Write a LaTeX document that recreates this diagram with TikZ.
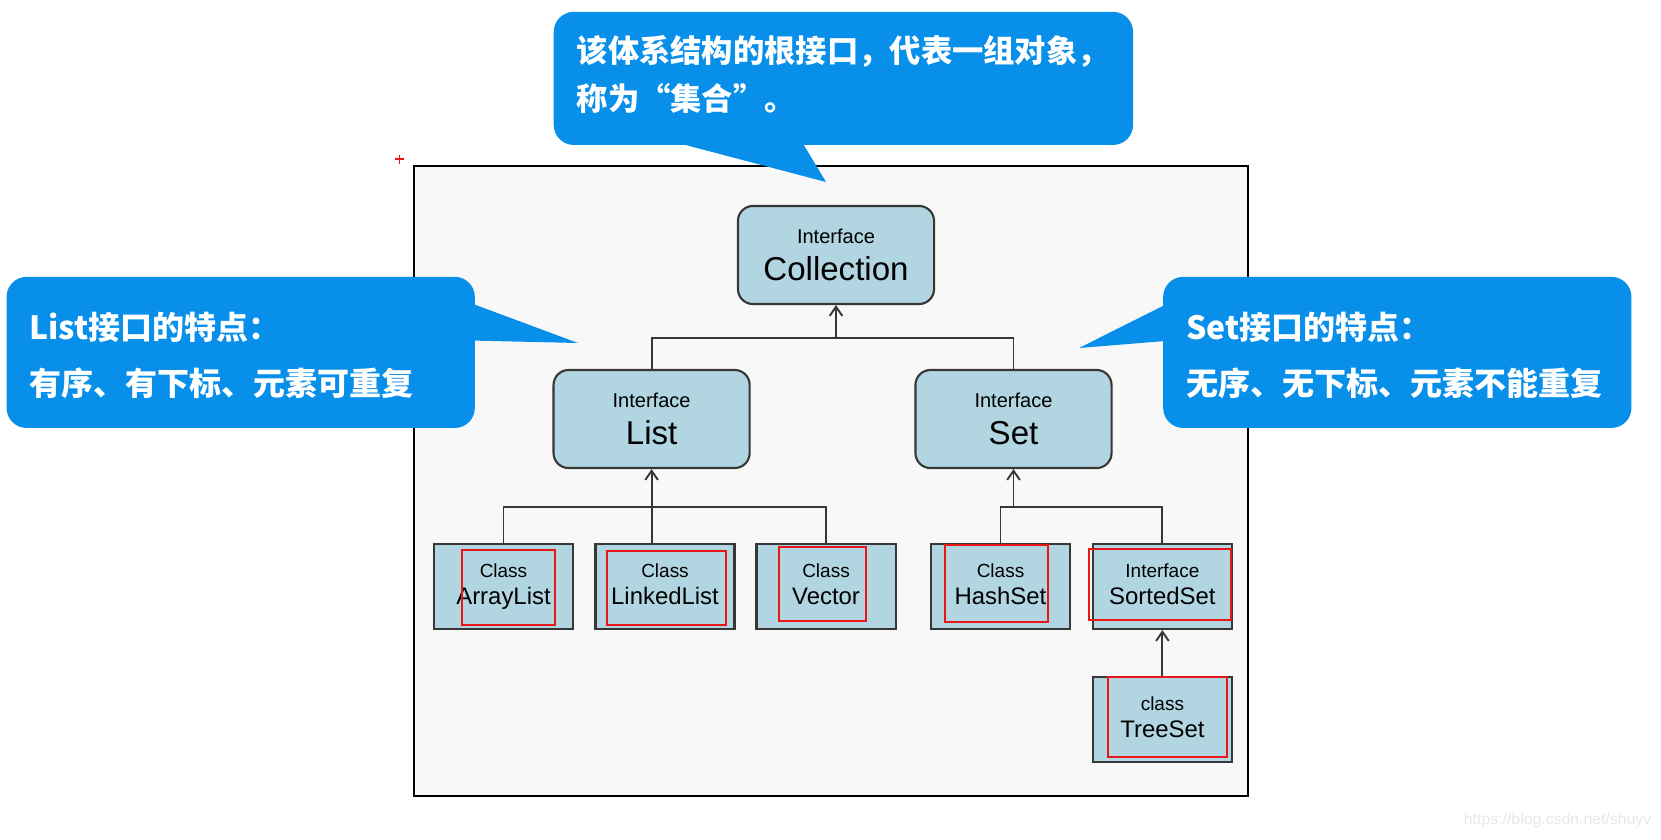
\documentclass[tikz,border=0pt]{standalone}
\usepackage{fontspec}
\setmainfont{Liberation Sans}
\newfontfamily\cjk{Noto Sans CJK SC}
\usepackage{tikz}
\usetikzlibrary{calc, positioning, arrows.meta}
\definecolor{noteBlue}{RGB}{8, 143, 233}
\definecolor{boxBlue}{RGB}{177, 213, 225}
\definecolor{frameBg}{RGB}{248, 248, 248}
\definecolor{lineGray}{RGB}{55, 55, 55}
\definecolor{markRed}{RGB}{232, 22, 22}

\begin{document}
\begin{tikzpicture}[x=0.01cm, y=-0.01cm, >={Straight Barb[length=2.6pt, width=3.6pt]},
  iface/.style={draw=lineGray, line width=0.6pt, rounded corners=0.15cm, fill=boxBlue,
    minimum width=1.96cm, minimum height=0.98cm, inner sep=0pt, align=center,
    font=\fontsize{9.4pt}{10.4pt}\selectfont},
  cls/.style={draw=lineGray, line width=0.6pt, fill=boxBlue, minimum width=1.39cm,
    minimum height=0.85cm, inner sep=0pt, align=center, font=\fontsize{6.8pt}{7.6pt}\selectfont,
    execute at begin node=\rule{0pt}{5.1pt}, execute at end node=\vphantom{y}},
  note/.style={fill=noteBlue, rounded corners=0.2cm, text=white, align=left,
    inner xsep=0.23cm, inner ysep=0pt},
  link/.style={draw=lineGray, line width=0.55pt},
  redbox/.style={draw=markRed, line width=0.6pt}]
  \useasboundingbox (0,0) rectangle (1661,839);
  \fill[white] (0,0) rectangle (1661,839);

  % frame of the hierarchy
  \draw[line width=0.7pt, fill=frameBg] (414,166) rectangle (1248,796);
  \draw[markRed, line width=0.4pt] (395,159) -- (404,159) (399.5,154.5) -- (399.5,163.5);

  % interfaces
  \node[iface] (Coll) at (836,255) {{\fontsize{5.7pt}{6pt}\selectfont Interface}\\Collection};
  \node[iface] (List) at (651.6,419) {{\fontsize{5.7pt}{6pt}\selectfont Interface}\\List};
  \node[iface] (Set) at (1013.5,419) {{\fontsize{5.7pt}{6pt}\selectfont Interface}\\Set};

  % implementations
  \node[cls] (AL) at (503.5,586.5) {{\fontsize{5.4pt}{6pt}\selectfont Class}\\ArrayList};
  \node[cls] (LL) at (665,586.5) {{\fontsize{5.4pt}{6pt}\selectfont Class}\\LinkedList};
  \node[cls] (Vec) at (826,586.5) {{\fontsize{5.4pt}{6pt}\selectfont Class}\\Vector};
  \node[cls] (HS) at (1000.5,586.5) {{\fontsize{5.4pt}{6pt}\selectfont Class}\\HashSet};
  \node[cls] (SS) at (1162.4,586.5) {{\fontsize{5.4pt}{6pt}\selectfont Interface}\\SortedSet};
  \node[cls] (TS) at (1162.4,719.6) {{\fontsize{5.4pt}{6pt}\selectfont class}\\TreeSet};

  % inheritance lines
  \coordinate (cbar) at ($(Coll.south)+(0,33)$);
  \draw[link] (List.north) |- (cbar) -| (Set.north);
  \draw[link, ->] (cbar) -- (Coll.south);
  \coordinate (lbar) at ($(List.south)+(0,38)$);
  \draw[link] (AL.north) |- (lbar) -| (Vec.north);
  \draw[link, ->] (LL.north -| lbar) -- (List.south);
  \coordinate (sbar) at ($(Set.south)+(0,38)$);
  \draw[link] (HS.north) |- (sbar) -| (SS.north);
  \draw[link, ->] (sbar) -- (Set.south);
  \draw[link, ->] (TS) -- (SS);

  % red marks
  \draw[redbox] (461.8,550) rectangle (555,625);
  \draw[redbox] (606.7,551) rectangle (726,625);
  \draw[redbox] (778.8,546.7) rectangle (866,621);
  \draw[redbox] (944.6,545) rectangle (1048,622);
  \draw[redbox] (1089,549) rectangle (1230.7,620);
  \draw[redbox] (1107.8,677) rectangle (1227,756.7);

  % callouts
  \node[note, minimum width=5.79cm, minimum height=1.33cm, text width=5.33cm,
    font=\cjk\bfseries\fontsize{8.9pt}{13.6pt}\selectfont] (TopNote) at (843.4,78.4)
    {该体系结构的根接口，代表一组对象，\\称为“集合”。\rule[-3.2pt]{0pt}{0pt}};
  \coordinate (TopTip) at (826,182);
  \fill[noteBlue] ([xshift=0.97cm, yshift=0.1cm]TopNote.south west)
    -- ([xshift=2.45cm, yshift=0.1cm]TopNote.south west) -- (TopTip) -- cycle;

  \node[note, minimum width=4.68cm, minimum height=1.51cm, text width=4.22cm,
    font=\cjk\bfseries\fontsize{9.1pt}{15.9pt}\selectfont] (ListNote) at (240.7,352.4)
    {\rule{0pt}{9.3pt}List接口的特点：\\有序、有下标、元素可重复};
  \coordinate (ListTip) at (578,343);
  \fill[noteBlue] ([xshift=-0.1cm, yshift=-0.25cm]ListNote.north east)
    -- ([xshift=-0.1cm, yshift=0.12cm]ListNote.east) -- (ListTip) -- cycle;

  \node[note, minimum width=4.68cm, minimum height=1.51cm, text width=4.22cm,
    font=\cjk\bfseries\fontsize{9.1pt}{15.9pt}\selectfont] (SetNote) at (1397.3,352.4)
    {\rule{0pt}{9.3pt}Set接口的特点：\\无序、无下标、元素不能重复};
  \coordinate (SetTip) at (1079,348);
  \fill[noteBlue] ([xshift=0.1cm, yshift=-0.25cm]SetNote.north west)
    -- ([xshift=0.1cm, yshift=0.12cm]SetNote.west) -- (SetTip) -- cycle;

  \node[text=black!9, inner sep=0pt, font=\fontsize{4.5pt}{5pt}\selectfont, anchor=east] (Mark)
    at (1652,820) {https://blog.csdn.net/shuyv};
\end{tikzpicture}
\end{document}
